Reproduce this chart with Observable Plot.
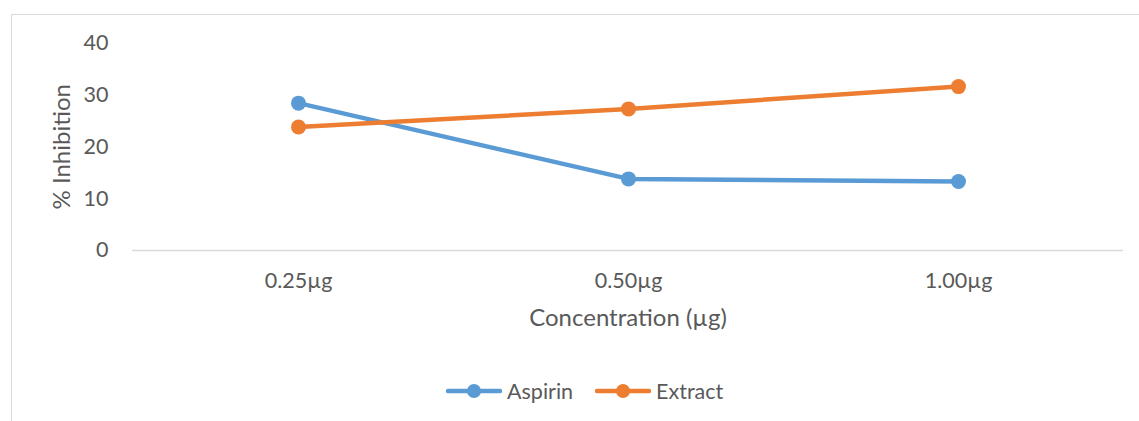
<!DOCTYPE html>
<html>
<head>
<meta charset="utf-8">
<script src="https://cdn.jsdelivr.net/npm/d3@7"></script>
<script src="https://cdn.jsdelivr.net/npm/@observablehq/plot@0.6"></script>
<style>
  html, body { margin: 0; padding: 0; background: #fff; }
  #wrap { position: relative; width: 1139px; height: 421px; overflow: hidden; font-family: Lato, "Open Sans", sans-serif; }
  #frame { position: absolute; left: 11px; top: 14px; width: 1200px; height: 500px; border-top: 1px solid #d9d9d9; border-left: 1px solid #d9d9d9; box-sizing: border-box; }
  #chart { position: absolute; left: 0; top: 0; }
  #legend { position: absolute; left: 446px; top: 375px; height: 32px; display: flex; align-items: center; gap: 22px; color: #595959; font-size: 21.5px; }
  .item { display: flex; align-items: center; gap: 5px; }
  .item svg { display: block; }
</style>
</head>
<body>
<div id="wrap">
  <div id="frame"></div>
  <div id="chart"></div>
  <div id="legend"></div>
</div>
<script>
const categories = ["0.25µg", "0.50µg", "1.00µg"];
const seriesNames = ["Aspirin", "Extract"];
const aspirin = [28.4, 13.8, 13.3];
const extract = [23.8, 27.3, 31.6];
const yTicks = [0, 10, 20, 30, 40];
const colors = ["#5B9BD5", "#ED7D31"];

const rows = [];
categories.forEach((c, i) => {
  rows.push({series: "Aspirin", conc: c, value: aspirin[i]});
  rows.push({series: "Extract", conc: c, value: extract[i]});
});

const textColor = "#595959";
const chart = Plot.plot({
  width: 1139,
  height: 340,
  marginTop: 42.5,
  marginBottom: 90,
  marginLeft: 132,
  marginRight: 16,
  style: {fontFamily: "Lato, 'Open Sans', sans-serif", fontSize: "21px", color: textColor, background: "transparent"},
  x: {type: "point", domain: categories, padding: 0.5, label: null},
  y: {domain: [0, 40], label: null},
  color: {domain: seriesNames, range: colors},
  marks: [
    Plot.axisX({tickSize: 0, tickPadding: 22, fontSize: 21.5, fill: textColor, label: null}),
    Plot.axisY({ticks: yTicks, tickSize: 0, tickPadding: 24, fontSize: 21.5, fill: textColor, label: null}),
    Plot.ruleY([0], {stroke: "#d9d9d9", strokeWidth: 1.5}),
    Plot.line(rows, {x: "conc", y: "value", z: "series", stroke: "series", strokeWidth: 4.5, strokeLinecap: "round"}),
    Plot.dot(rows, {x: "conc", y: "value", fill: "series", r: 7.5}),
    Plot.text(["Concentration (µg)"], {frameAnchor: "bottom", dy: 75, fontSize: 24, fill: textColor}),
    Plot.text(["% Inhibition"], {frameAnchor: "left", textAnchor: "middle", dx: -70, rotate: -90, fontSize: 24, fill: textColor})
  ]
});
document.getElementById("chart").appendChild(chart);

const legend = document.getElementById("legend");
seriesNames.forEach((name, i) => {
  const item = document.createElement("div");
  item.className = "item";
  item.innerHTML = `<svg width="56" height="18"><line x1="2" x2="54" y1="9" y2="9" stroke="${colors[i]}" stroke-width="4.5" stroke-linecap="round"/><circle cx="28" cy="9" r="7" fill="${colors[i]}"/></svg><span>${name}</span>`;
  legend.appendChild(item);
});
</script>
</body>
</html>
